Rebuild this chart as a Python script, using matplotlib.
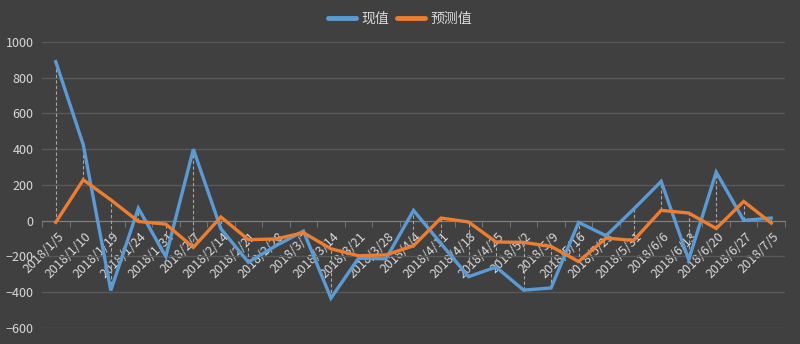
import matplotlib
matplotlib.use('Agg')
import matplotlib.pyplot as plt
import matplotlib.ticker as mticker
import matplotlib.transforms as mtransforms
import numpy as np

BG = '#404040'
GRID = '#595959'
TXT = '#d9d9d9'
BLUE = '#5B9BD5'
ORANGE = '#ED7D31'
plt.rcParams['font.family'] = ['Noto Sans CJK SC', 'DejaVu Sans']

dates = ['2018/1/5', '2018/1/10', '2018/1/19', '2018/1/24', '2018/1/31', '2018/2/7',
         '2018/2/14', '2018/2/21', '2018/2/28', '2018/3/7', '2018/3/14', '2018/3/21',
         '2018/3/28', '2018/4/4', '2018/4/11', '2018/4/18', '2018/4/25', '2018/5/2',
         '2018/5/9', '2018/5/16', '2018/5/23', '2018/5/31', '2018/6/6', '2018/6/13',
         '2018/6/20', '2018/6/27', '2018/7/5']
actual = [890, 425, -390, 70, -200, 400, -45, -232, -140, -58, -433, -210, -213,
          58, -128, -313, -259, -388, -376, -9, -84, 65, 220, -218, 272, 2, 15]
forecast = [-9, 229, 117, -4, -19, -149, 21, -106, -102, -67, -157, -196, -191,
            -140, 15, -7, -119, -121, -144, -228, -97, -110, 58, 43, -43, 108, -13]

x = np.arange(len(dates))

fig = plt.figure(figsize=(8, 3.44), dpi=100, facecolor=BG)
ax = fig.add_axes([0.0525, 0.0465, 0.92875, 0.8315], facecolor=BG)

# high-low lines between the two series
lo = np.minimum(actual, forecast)
hi = np.maximum(actual, forecast)
ax.vlines(x, lo, hi, colors='#a6a6a6', linestyles=(0, (3, 2)), linewidth=0.8, zorder=2)

ax.plot(x, actual, color=BLUE, linewidth=2.4, label='现值', zorder=4,
        solid_joinstyle='miter')
ax.plot(x, forecast, color=ORANGE, linewidth=2.4, label='预测值', zorder=5,
        solid_joinstyle='miter')

ax.set_xlim(-0.5, len(dates) - 0.5)
ax.set_ylim(-600, 1000)
ax.yaxis.set_major_locator(mticker.MultipleLocator(200))
ax.grid(axis='y', color=GRID, linewidth=1)
ax.set_axisbelow(True)

for s in ['top', 'right', 'left']:
    ax.spines[s].set_visible(False)
ax.spines['bottom'].set_position(('data', 0))
ax.spines['bottom'].set_color('#7f7f7f')
ax.spines['bottom'].set_zorder(1)

ax.set_xticks(x)
ax.set_xticks(np.arange(len(dates) + 1) - 0.5, minor=True)
ax.tick_params(axis='x', which='major', length=0, pad=10)
ax.tick_params(axis='x', which='minor', length=4, color='#7f7f7f', direction='out')
ax.set_xticklabels(dates, rotation=45, ha='right', va='center',
                   rotation_mode='anchor', fontsize=9, color=TXT)
shift = mtransforms.ScaledTranslation(6 / 100, 0, fig.dpi_scale_trans)
for lab in ax.get_xticklabels():
    lab.set_transform(lab.get_transform() + shift)
ax.tick_params(axis='y', length=0, labelsize=9, labelcolor=TXT, pad=6)

leg = fig.legend(loc='center', bbox_to_anchor=(0.5, 0.945), ncol=2, frameon=False,
                 fontsize=10, handlelength=2.0, columnspacing=0.6, handletextpad=0.4)
for line in leg.get_lines():
    line.set_linewidth(3.5)
    line.set_solid_capstyle('round')
for t in leg.get_texts():
    t.set_color(TXT)

fig.savefig('out.png', dpi=100, facecolor=BG)
